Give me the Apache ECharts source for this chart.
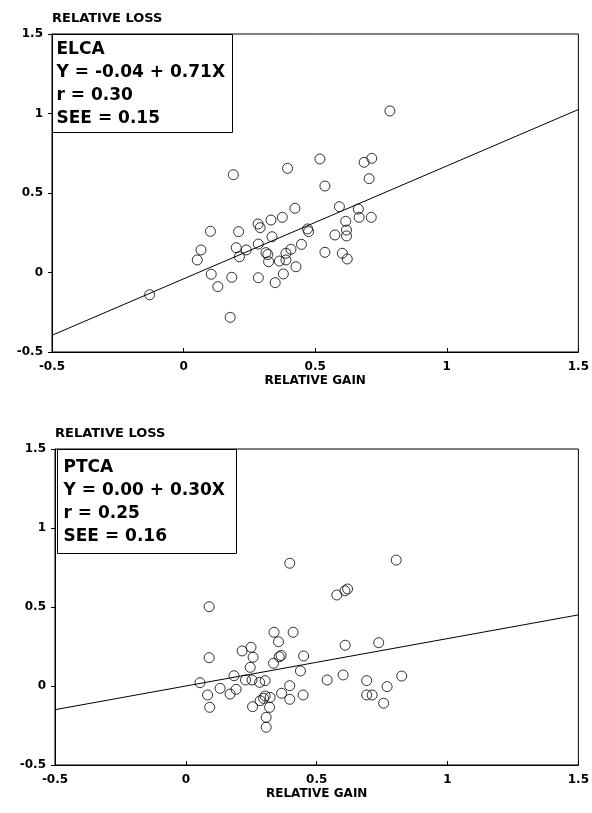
<!DOCTYPE html>
<html>
<head>
<meta charset="utf-8">
<script src="https://cdn.jsdelivr.net/npm/echarts@6/dist/echarts.min.js"></script>
<style>
html,body{margin:0;padding:0;background:#fff;}
#chart{width:592px;height:813px;}
</style>
</head>
<body>
<div id="chart"></div>
<script>
// ELCA group: [relative gain, relative loss]
var elcaPoints = [
    [0.784, 1.016], [0.518, 0.714], [0.395, 0.655], [0.189, 0.615], [0.686, 0.693],
    [0.715, 0.718], [0.537, 0.544], [0.705, 0.590], [0.423, 0.404], [0.592, 0.414],
    [0.664, 0.399], [0.667, 0.347], [0.713, 0.347], [0.375, 0.347], [0.332, 0.330],
    [0.283, 0.305], [0.616, 0.322], [-0.129, -0.140], [0.102, 0.259], [0.066, 0.142],
    [0.052, 0.079], [0.105, -0.011], [0.130, -0.089], [0.177, -0.282], [0.183, -0.030],
    [0.209, 0.257], [0.200, 0.156], [0.212, 0.099], [0.238, 0.142], [0.284, -0.033],
    [0.284, 0.179], [0.291, 0.282], [0.336, 0.225], [0.313, 0.125], [0.320, 0.113],
    [0.323, 0.068], [0.348, -0.064], [0.364, 0.072], [0.379, -0.009], [0.389, 0.121],
    [0.389, 0.079], [0.408, 0.146], [0.427, 0.036], [0.448, 0.177], [0.471, 0.274],
    [0.475, 0.257], [0.537, 0.127], [0.575, 0.236], [0.603, 0.121], [0.622, 0.085],
    [0.619, 0.267], [0.619, 0.230]
];
// PTCA group
var ptcaPoints = [
    [0.397, 0.777], [0.804, 0.797], [0.577, 0.576], [0.608, 0.603], [0.618, 0.614],
    [0.089, 0.502], [0.337, 0.340], [0.410, 0.340], [0.354, 0.280], [0.215, 0.222],
    [0.249, 0.245], [0.257, 0.182], [0.089, 0.179], [0.357, 0.185], [0.364, 0.193],
    [0.335, 0.144], [0.450, 0.190], [0.609, 0.258], [0.737, 0.274], [0.246, 0.118],
    [0.438, 0.095], [0.054, 0.021], [0.184, 0.065], [0.228, 0.038], [0.253, 0.038],
    [0.282, 0.023], [0.303, 0.034], [0.131, -0.015], [0.192, -0.021], [0.169, -0.051],
    [0.083, -0.057], [0.091, -0.135], [0.255, -0.131], [0.284, -0.093], [0.303, -0.063],
    [0.297, -0.078], [0.322, -0.072], [0.320, -0.135], [0.307, -0.198], [0.307, -0.261],
    [0.366, -0.046], [0.397, 0.002], [0.397, -0.084], [0.448, -0.057], [0.540, 0.038],
    [0.601, 0.070], [0.691, 0.034], [0.691, -0.057], [0.712, -0.057], [0.769, -0.004],
    [0.756, -0.109], [0.825, 0.063]
];
// regression fits [intercept, slope] and stats
var elcaFit = [-0.04, 0.71];
var ptcaFit = [0.00, 0.30];
var groupNames = ['ELCA', 'PTCA'];
var rValues = ['0.30', '0.25'];
var seeValues = ['0.15', '0.16'];
var axisRange = [-0.5, 1.5];

const myChart = echarts.init(document.getElementById('chart'));
var font = '"DejaVu Sans", sans-serif';

function fitLine(fit){
    return axisRange.map(function(x){ return [x, fit[0] + fit[1] * x]; });
}
function fitText(i, fit){
    var sign = fit[0] < 0 ? '-' : '';
    return groupNames[i] + '\nY = ' + sign + Math.abs(fit[0]).toFixed(2) + ' + ' + fit[1].toFixed(2) + 'X'
        + '\nr = ' + rValues[i] + '\nSEE = ' + seeValues[i];
}

function xAxis(idx){
    return {
        gridIndex: idx, type: 'value', min: axisRange[0], max: axisRange[1], interval: 0.5,
        name: 'RELATIVE GAIN', nameLocation: 'middle', nameGap: 23,
        nameTextStyle: {color: '#000', fontFamily: font, fontWeight: 'bold', fontSize: 12},
        axisLine: {onZero: false, lineStyle: {color: '#000', width: 1}},
        axisTick: {inside: true, length: 4, lineStyle: {color: '#000'}},
        axisLabel: {color: '#000', fontFamily: font, fontWeight: 'bold', fontSize: 12, margin: 9},
        splitLine: {show: false}
    };
}
function yAxis(idx){
    return {
        gridIndex: idx, type: 'value', min: axisRange[0], max: axisRange[1], interval: 0.5,
        name: 'RELATIVE LOSS', nameLocation: 'end', nameGap: 9,
        nameTextStyle: {color: '#000', fontFamily: font, fontWeight: 'bold', fontSize: 13, align: 'left'},
        axisLine: {onZero: false, lineStyle: {color: '#000', width: 1}},
        axisTick: {length: 4, lineStyle: {color: '#000'}},
        axisLabel: {color: '#000', fontFamily: font, fontWeight: 'bold', fontSize: 12, margin: 9},
        splitLine: {show: false}
    };
}
function scatter(idx, data){
    return {
        type: 'scatter', xAxisIndex: idx, yAxisIndex: idx, data: data,
        symbol: 'circle', symbolSize: 10,
        itemStyle: {color: 'rgba(255,255,255,0)', borderColor: '#000', borderWidth: 1},
        z: 3, silent: true
    };
}
function line(idx, fit){
    return {
        type: 'line', xAxisIndex: idx, yAxisIndex: idx, data: fitLine(fit),
        showSymbol: false, lineStyle: {color: '#000', width: 1}, z: 2, silent: true
    };
}
function box(left, top, w, h, tx, ty, text){
    return {
        type: 'group', left: left, top: top,
        children: [
            {type: 'rect', shape: {x: 0, y: 0, width: w, height: h},
                style: {fill: '#fff', stroke: '#000', lineWidth: 1}, z: 10},
            {type: 'text', x: tx, y: ty, z: 11,
                style: {text: text, fill: '#000', font: 'bold 17px ' + font, lineHeight: 23}}
        ]
    };
}

var option = {
    animation: false,
    backgroundColor: '#fff',
    grid: [
        {left: 52, top: 34, width: 528, height: 318, show: true, borderColor: '#000', borderWidth: 1},
        {left: 55, top: 449, width: 527, height: 316, show: true, borderColor: '#000', borderWidth: 1}
    ],
    xAxis: [xAxis(0), xAxis(1)],
    yAxis: [yAxis(0), yAxis(1)],
    series: [
        line(0, elcaFit), scatter(0, elcaPoints),
        line(1, ptcaFit), scatter(1, ptcaPoints)
    ],
    graphic: [
        box(52, 34, 180, 98, 4, 4, fitText(0, elcaFit)),
        box(57, 449, 179, 104, 6, 7, fitText(1, ptcaFit))
    ]
};

myChart.setOption(option);
</script>
</body>
</html>
